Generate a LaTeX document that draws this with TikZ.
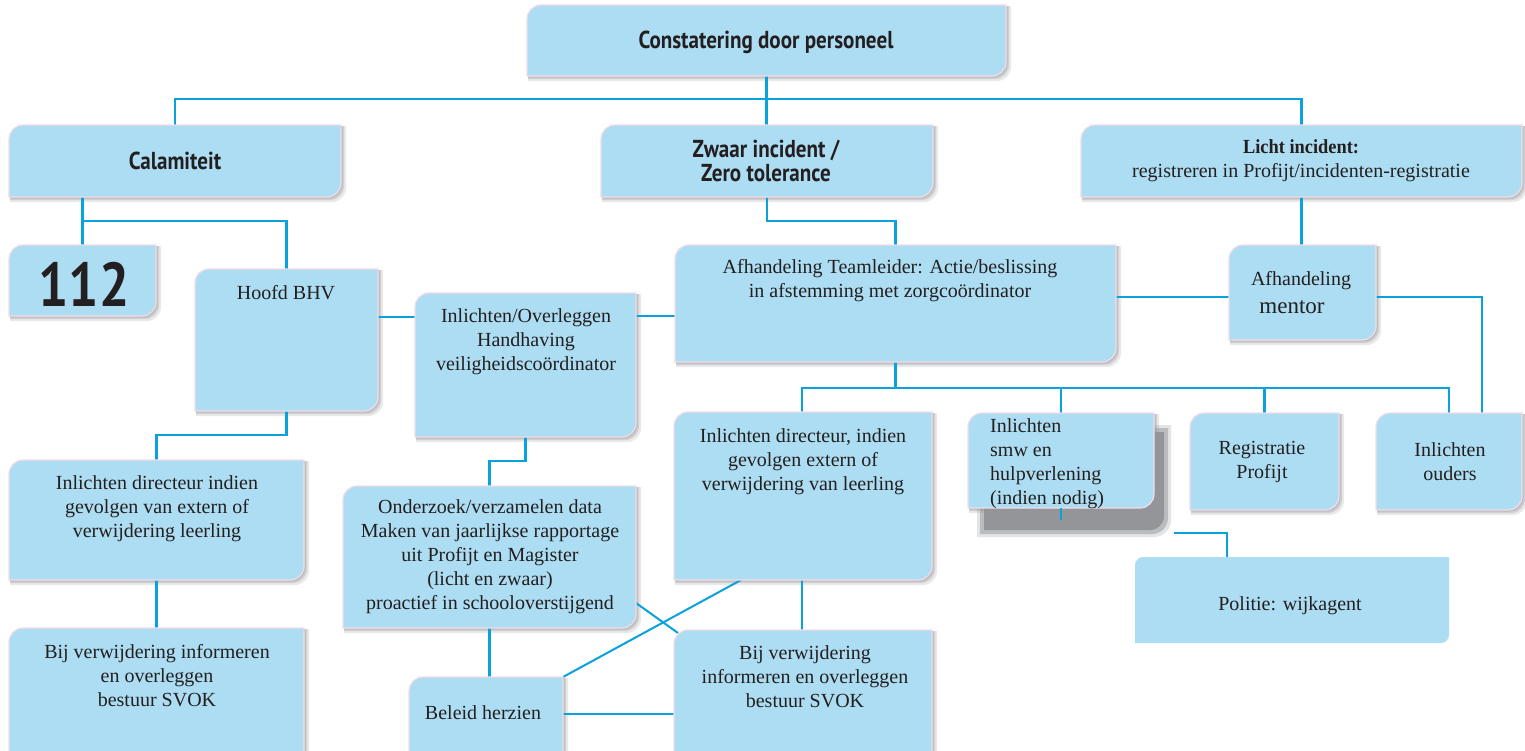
\documentclass[tikz,border=0pt]{standalone}
\usepackage{fontspec}
\setmainfont{Liberation Serif}
\newfontfamily\tsans[FakeStretch=0.86]{PT Sans}
\newfontfamily\serifc[FakeStretch=0.92]{Liberation Serif}
\usetikzlibrary{calc}
\definecolor{boxc}{HTML}{ADDDF2}
\definecolor{linec}{HTML}{0AA2DC}
\definecolor{edgec}{HTML}{F0DCE8}
\definecolor{txtc}{HTML}{231F20}
\definecolor{shc}{HTML}{939598}
\pgfdeclarelayer{bgw}
\pgfdeclarelayer{shad}
\pgfdeclarelayer{lines}
\pgfsetlayers{bgw,shad,lines,main}
\newcommand\shapefill[6]{%
 \path[#1] (#2,#5) -- (#2,{#3+#6}) .. controls (#2,{#3+0.45*#6}) and ({#2+0.45*#6},#3) .. ({#2+#6},#3) -- (#4,#3) -- (#4,{#5-#6}) .. controls (#4,{#5-0.45*#6}) and ({#4-0.45*#6},#5) .. ({#4-#6},#5) -- cycle;}
\newcommand\cb[6][14]{%
 \node[bxn, minimum width={#5-#3}, minimum height={#6-#4}] (#2) at ({(#3+#5)/2},{(#4+#6)/2}) {};
 \begin{pgfonlayer}{shad}
  \shapefill{fill=shc,opacity=.2}{#3+1}{#4+1}{#5+5}{#6+5}{#1}
  \shapefill{fill=shc,opacity=.3}{#3+1}{#4+1}{#5+3}{#6+3}{#1}
  \shapefill{fill=shc,opacity=.3}{#3+1}{#4+1}{#5+1.5}{#6+1.5}{#1}
 \end{pgfonlayer}
 \shapefill{fill=boxc,draw=edgec,line width=1.2pt}{#3}{#4}{#5}{#6}{#1}
}
\begin{document}
\begin{tikzpicture}[x=1pt,y=-1pt,
  bxn/.style={rectangle,inner sep=0pt,outer sep=0pt},
  ln/.style={draw=linec,line width=2.4pt},
  tx/.style={text=txtc,align=center,inner sep=0pt,font=\fontsize{20}{24}\selectfont},
  ttl/.style={text=txtc,align=center,inner sep=0pt,font=\tsans\bfseries\fontsize{24.5}{24}\selectfont}]
\useasboundingbox (0,0) rectangle (1525,750);
\clip (0,0) rectangle (1525,750);
\begin{pgfonlayer}{bgw}
\fill[white] (0,0) rectangle (1525,750);
\end{pgfonlayer}

% boxes
\cb{con}{527}{5}{1006}{76}
\cb{cal}{9}{125}{341}{197}
\cb{zwa}{601}{125}{933}{197}
\cb{lic}{1081}{125}{1522}{197}
\cb{b112}{9}{245}{156}{316}
\cb{hb}{195}{269}{378}{411}
\cb{io}{415}{293}{636}{437}
\cb{tl}{675}{245}{1116}{362}
\cb{men}{1229}{245}{1376}{340}
\cb{ld}{9}{460}{304}{580}
\cb{ond}{343}{486}{636}{628}
\cb{dir}{674}{412}{932}{580}
\begin{pgfonlayer}{shad}
 \shapefill{fill=shc,opacity=.25}{977}{425}{1171}{537}{17}
 \shapefill{fill=shc,opacity=.5}{980}{428}{1168}{534}{16}
 \shapefill{fill=shc}{984}{432}{1164}{530}{14}
\end{pgfonlayer}
\cb{smw}{968}{413}{1154}{508}
\cb{reg}{1190}{413}{1339}{510}
\cb{oud}{1376}{413}{1522}{510}
\cb{lb}{9}{628}{304}{770}
\cb{bel}{409}{677}{563}{770}
\cb{bm}{674}{630}{932}{770}
\node[bxn, minimum width=314, minimum height=86] (pol) at (1292,600) {};
\shapefill{fill=boxc}{1135}{557}{1449}{643}{8}

% connectors
\begin{pgfonlayer}{lines}
\draw[ln] (cal.north) -- ++(0,-26) -| (lic.north);
\draw[ln] (con.south) -- (con.south |- zwa.north);
\draw[ln] (cal.south -| b112.north) -- (b112.north);
\draw[ln] (b112.north |- 0,221) -| (hb.north);
\draw[ln] (hb.east |- 0,317) -- (io.west |- 0,317);
\draw[ln] (io.east |- 0,316) -- (tl.west |- 0,316);
\draw[ln] (zwa.south) -- ++(0,24) -| (tl.north);
\draw[ln] (lic.south) -- (lic.south |- men.north);
\draw[ln] (tl.east |- 0,297) -- (men.west |- 0,297);
\draw[ln] (men.east |- 0,297) -| (1482,0 |- oud.north);
\draw[ln] (tl.south) -- ++(0,26) coordinate (jb);
\draw[ln] (dir.north -| 802,0) |- (oud.north |- jb) -- (oud.north);
\draw[ln] (smw.north |- jb) -- (smw.north);
\draw[ln] (reg.north |- jb) -- (reg.north);
\draw[ln] (hb.south) -- ++(0,24) -| (ld.north);
\draw[ln] (ld.south) -- (lb.north);
\draw[ln] (io.south) -- ++(0,24) -| (ond.north);
\draw[ln] (ond.south) -- (ond.south |- bel.north);
\draw[ln] (bel.east |- 0,714) -- (bm.west |- 0,714);
\draw[ln] (dir.south -| 802,0) -- (bm.north -| 802,0);
\draw[ln,line width=2pt] (bel.north east) -- (741,0 |- dir.south);
\draw[ln,line width=2pt] (ond.east |- 0,603) -- ([shift={(4,3)}]bm.north west);
\coordinate (pj) at (1174,533);
\draw[ln] (pj) -| (pol.north -| 1227,0);
\end{pgfonlayer}
\draw[ln] (smw.south) -- ++(0,12);

% texts
\node[ttl] (t-con) at (766,42) {Constatering door personeel};
\node[ttl] (t-cal) at (175,161) {Calamiteit};
\node[ttl] (t-zwa) at (766,161) {Zwaar incident /\\Zero tolerance};
\node[tx] (t-lic) at (1301,161) {{\serifc\bfseries Licht incident:}\\registreren in Profijt/incidenten-registratie};
\node[ttl,font=\tsans\bfseries\fontsize{62}{64}\selectfont] (t-112) at (84,284) {112};
\node[tx] (t-hb) at (286,293) {Hoofd BHV};
\node[tx] (t-io) at (526,342) {Inlichten/Overleggen\\Handhaving\\veiligheidscoördinator};
\node[tx] (t-tl) at (890,281) {Afhandeling Teamleider: Actie/beslissing\\in afstemming met zorgcoördinator};
\node[tx] (t-men1) at (1301,281) {Afhandeling};
\node[tx,font=\fontsize{23}{26}\selectfont] (t-men2) at (1292,307) {mentor};
\node[tx] (t-dir) at (803,462) {Inlichten directeur, indien\\gevolgen extern of\\verwijdering van leerling};
\node[tx,align=left,anchor=west] (t-smw) at (990,464) {Inlichten\\smw en\\hulpverlening\\(indien nodig)};
\node[tx] (t-reg) at (1262,462) {Registratie\\Profijt};
\node[tx] (t-oud) at (1450,462) {Inlichten\\ouders};
\node[tx] (t-pol) at (1290,606) {Politie: wijkagent};
\node[tx] (t-ld) at (157,509) {Inlichten directeur indien\\gevolgen van extern of\\verwijdering leerling};
\node[tx] (t-ond) at (490,557) {Onderzoek/verzamelen data\\Maken van jaarlijkse rapportage\\uit Profijt en Magister\\(licht en zwaar)\\proactief in schooloverstijgend};
\node[tx] (t-lb) at (157,676) {Bij verwijdering informeren\\en overleggen\\bestuur SVOK};
\node[tx] (t-bel) at (483,713) {Beleid herzien};
\node[tx] (t-bm) at (805,677) {Bij verwijdering\\informeren en overleggen\\bestuur SVOK};
\end{tikzpicture}
\end{document}
